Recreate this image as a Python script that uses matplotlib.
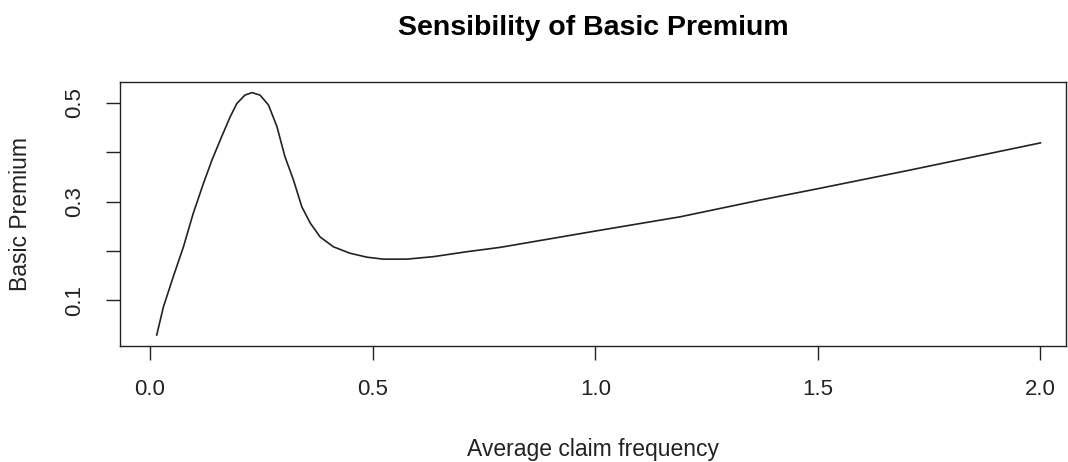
import matplotlib.pyplot as plt

# ---------------- DATA ----------------
freq = [0.015, 0.030, 0.052, 0.075, 0.097, 0.120, 0.139, 0.161, 0.180, 0.195,
        0.213, 0.229, 0.247, 0.266, 0.285, 0.303, 0.322, 0.341, 0.360, 0.382,
        0.412, 0.449, 0.487, 0.524, 0.577, 0.636, 0.711, 0.787, 1.0, 1.191,
        1.371, 1.5, 1.708, 2.0]
premium = [0.029, 0.086, 0.147, 0.208, 0.276, 0.337, 0.384, 0.432, 0.472, 0.499,
           0.516, 0.521, 0.516, 0.496, 0.452, 0.391, 0.344, 0.289, 0.256, 0.228,
           0.208, 0.195, 0.187, 0.183, 0.183, 0.188, 0.198, 0.207, 0.240, 0.269,
           0.303, 0.326, 0.364, 0.419]

xticks = [0.0, 0.5, 1.0, 1.5, 2.0]
yticks = [0.1, 0.2, 0.3, 0.4, 0.5]
ytick_labels = ["0.1", "", "0.3", "", "0.5"]

# ---------------- PLOT ----------------
plt.rcParams['font.family'] = ['Liberation Sans', 'DejaVu Sans']

fig = plt.figure(figsize=(10.68, 4.62), dpi=100)
ax = fig.add_axes([0.1124, 0.251, 0.886, 0.5715])

ax.plot(freq, premium, color="#222222", lw=1.2, solid_joinstyle="round")

ax.set_xlim(-0.0674, 2.058)
ax.set_ylim(0.0066, 0.5426)
ax.set_xticks(xticks)
ax.set_xticklabels([f"{t:.1f}" for t in xticks])
ax.set_yticks(yticks)
ax.set_yticklabels(ytick_labels, rotation=90, va="center")

ax.tick_params(direction="out", length=10, width=1, labelsize=16, colors="#222222")
ax.tick_params(axis="x", pad=14)
ax.tick_params(axis="y", pad=15)
for s in ax.spines.values():
    s.set_linewidth(1)
    s.set_color("#222222")

ax.set_xlabel("Average claim frequency", fontsize=16.5, labelpad=27, color="#222222")
ax.set_ylabel("Basic Premium", fontsize=16.5, labelpad=23, color="#222222")

# main title centred over the plot region (R style)
pos = ax.get_position()
fig.text(pos.x0 + pos.width / 2, 0.94, "Sensibility of Basic Premium",
         fontsize=20.5, fontweight="bold", ha="center", va="center")

fig.savefig("out.png", dpi=100)
